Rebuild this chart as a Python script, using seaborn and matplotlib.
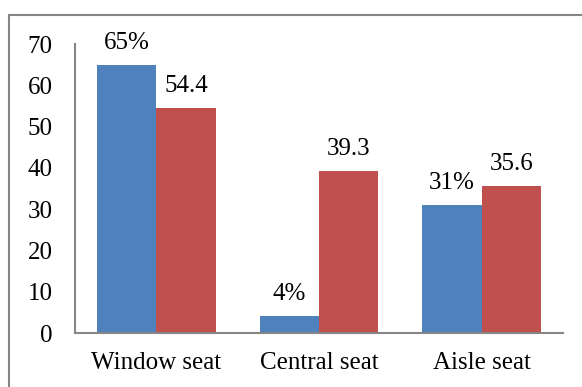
import pandas as pd
import matplotlib.pyplot as plt
import seaborn as sns
from matplotlib.patches import Rectangle

# data
seats = ['Window seat', 'Central seat', 'Aisle seat']
share_pct = [65, 4, 31]
score = [54.4, 39.3, 35.6]
share_labels = ['65%', '4%', '31%']
score_labels = ['54.4', '39.3', '35.6']

sns.set_theme(style='white')
plt.rcParams['font.family'] = ['Liberation Serif', 'DejaVu Serif']

df = pd.DataFrame({
    'seat': seats * 2,
    'value': share_pct + score,
    'series': ['share'] * 3 + ['score'] * 3,
})

fig = plt.figure(figsize=(5.82, 3.87), dpi=100)
ax = fig.add_axes([75 / 582, 1 - 333 / 387, (563 - 75) / 582, (333 - 44) / 387])

sns.barplot(data=df, x='seat', y='value', hue='series', order=seats,
            hue_order=['share', 'score'], palette=['#4F81BD', '#C0504D'],
            width=0.73, gap=0, saturation=1, legend=False, ax=ax, linewidth=0)

ax.set_ylim(0, 70)
ax.set_xlim(-0.5, 2.5)
ax.set_yticks(range(0, 71, 10))
ax.set_xlabel('')
ax.set_ylabel('')
ax.tick_params(axis='y', length=0, pad=16, labelsize=18, colors='black')
ax.tick_params(axis='x', length=0, pad=14, labelsize=18, colors='black')

for s in ['top', 'right']:
    ax.spines[s].set_visible(False)
for s in ['left', 'bottom']:
    ax.spines[s].set_color('#868686')
    ax.spines[s].set_linewidth(1.5)

# value labels over the bars
labels = share_labels + score_labels
for p, lab in zip(ax.patches, labels):
    ax.annotate(lab, (p.get_x() + p.get_width() / 2, p.get_height()),
                xytext=(0, 8), textcoords='offset points', ha='center', va='bottom',
                fontsize=18, color='black')

# chart frame (cut off at right and bottom like the original)
fig.patches.append(Rectangle((9 / 582, -0.05), 1.2, 1 - 15 / 387 + 0.05,
                             transform=fig.transFigure, fill=False,
                             edgecolor='#868686', linewidth=1.5))

fig.savefig('out.png', dpi=100)
